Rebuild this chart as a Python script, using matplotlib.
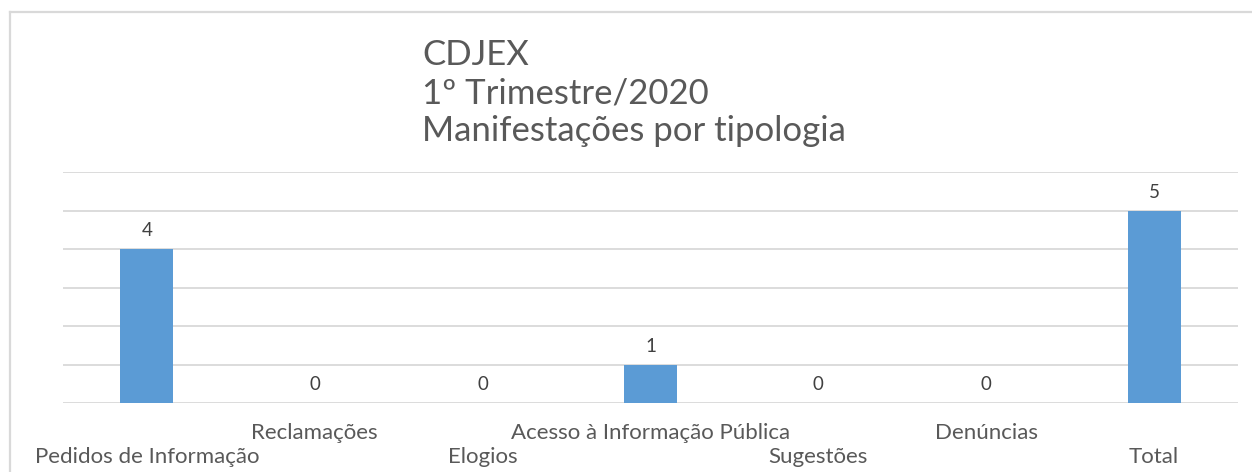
import matplotlib
matplotlib.use("Agg")
import matplotlib.pyplot as plt
from matplotlib.lines import Line2D

categories = ["Pedidos de Informação", "Reclamações", "Elogios",
              "Acesso à Informação Pública", "Sugestões", "Denúncias", "Total"]
values = [4, 0, 0, 1, 0, 0, 5]
title_lines = ["CDJEX", "1º Trimestre/2020", "Manifestações por tipologia"]

plt.rcParams['font.family'] = ['Lato', 'DejaVu Sans']

W, H = 1252, 472
fig = plt.figure(figsize=(W / 100, H / 100), dpi=100)
fig.patch.set_facecolor("white")

# chart area border (cut off at right and bottom)
fig.add_artist(Line2D([9.5 / W, 9.5 / W], [0, 1 - 11.5 / H], transform=fig.transFigure,
                      color="#D9D9D9", lw=1.6))
fig.add_artist(Line2D([9.5 / W, 1.0], [1 - 11.5 / H, 1 - 11.5 / H], transform=fig.transFigure,
                      color="#D9D9D9", lw=1.6))

left, right = 63 / W, 1238 / W
bottom, top = 1 - 403 / H, 1 - 172 / H
ax = fig.add_axes([left, bottom, right - left, top - bottom])

x = list(range(len(categories)))
ax.bar(x, values, width=0.315, color="#5B9BD5", zorder=3)
ax.set_xlim(-0.5, len(categories) - 0.5)
ax.set_ylim(0, 6)
ax.set_yticks(range(0, 7))
ax.yaxis.grid(True, color="#D9D9D9", lw=1.3, zorder=0)
ax.set_yticklabels([])
ax.tick_params(axis="both", length=0)
for s in ax.spines.values():
    s.set_visible(False)
ax.set_xticks([])

for xi, v in zip(x, values):
    ax.annotate(str(v), (xi, v), xytext=(0, 7), textcoords="offset points",
                ha="center", va="bottom", fontsize=13.5, color="#404040")

for xi, lab in zip(x, categories):
    # offsets in points (dpi 100 -> 0.72 pt per pixel)
    yoff = -39 if xi % 2 == 0 else -21.5
    ax.annotate(lab, (xi, 0), xytext=(0, yoff), textcoords="offset points",
                ha="center", va="center", fontsize=16, color="#595959",
                annotation_clip=False)

fig.text(422 / W, 1 - 39 / H, "\n".join(title_lines), ha="left", va="top",
         fontsize=25, color="#595959", linespacing=1.24)

fig.savefig("out.png", dpi=100)
